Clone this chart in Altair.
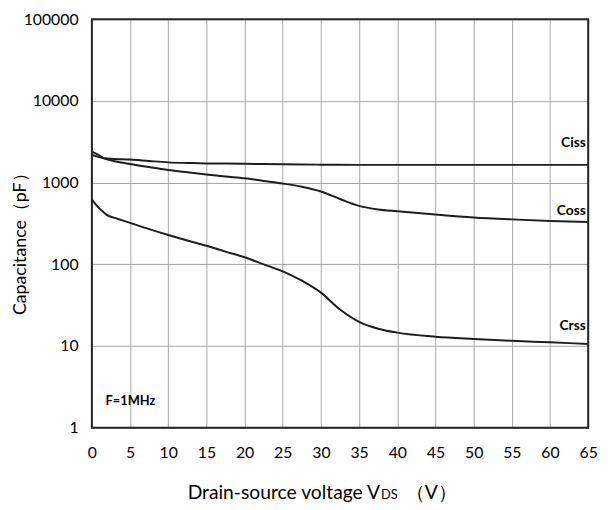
import altair as alt
import pandas as pd

V_ciss = [0, 1, 1.5, 2, 3, 5, 7.5, 10, 12.5, 15, 17.5, 20, 22.5, 25, 27.5, 30, 35, 40, 45, 50, 55, 60, 65]
ciss = [2180, 2050, 2000, 1980, 1950, 1920, 1840, 1770, 1740, 1720, 1710, 1700, 1690, 1680, 1670, 1660, 1650, 1650, 1650, 1650, 1650, 1650, 1650]

V_coss = [0, 1, 1.5, 2, 3, 5, 7.5, 10, 12.5, 15, 17.5, 20, 22.5, 25, 27.5, 30, 32.5, 35, 37.5, 40, 45, 50, 55, 60, 65]
coss = [2400, 2150, 2000, 1930, 1830, 1690, 1550, 1430, 1340, 1260, 1190, 1130, 1050, 975, 890, 778, 630, 520, 470, 447, 407, 375, 355, 340, 330]

V_crss = [0, 0.5, 1, 1.5, 2, 3, 5, 7.5, 10, 12.5, 15, 17.5, 20, 22.5, 25, 27.5, 30, 32.5, 35, 37.5, 40, 45, 50, 55, 60, 65]
crss = [620, 542, 481, 438, 400, 370, 322, 270, 229, 196, 169, 143, 122, 100, 82, 63, 45, 28, 19.8, 16.3, 14.6, 13, 12.2, 11.6, 11.1, 10.6]

label_names = ["Ciss", "Coss", "Crss"]
label_x = [64.7, 64.7, 64.7]
label_y = [3040, 447, 17.4]

note_text = ["F=1MHz"]
note_x = [1.8]
note_y = [2.12]

x_ticks = list(range(0, 70, 5))
y_ticks = [1, 10, 100, 1000, 10000, 100000]

x_title_parts = ["Drain-source voltage V", "DS", "（V）"]

rows = []
for name, xs_, ys_ in [("Ciss", V_ciss, ciss), ("Coss", V_coss, coss), ("Crss", V_crss, crss)]:
    for a, b in zip(xs_, ys_):
        rows.append({"series": name, "V": a, "C": b})
df = pd.DataFrame(rows)
lab = pd.DataFrame({"name": label_names, "V": label_x, "C": label_y})
note = pd.DataFrame({"t": note_text, "V": note_x, "C": note_y})

FONT = "Lato"
W, H = 503, 414

xs = alt.Scale(domain=[0, 65], nice=False, zero=False)
ys = alt.Scale(type="log", domain=[1, 100000], nice=False)

xaxis = alt.Axis(
    values=x_ticks, format="d", title=None, labelOverlap=False,
    grid=True, gridColor="#a6a6a6", gridWidth=1, ticks=False, domain=False,
    labelFontSize=16, labelPadding=17, labelFont=FONT, labelColor="#000",
    labelFlush=False)
yaxis = alt.Axis(
    values=y_ticks, format="d", title="Capacitance（pF）", labelOverlap=False,
    grid=True, gridColor="#a6a6a6", gridWidth=1, ticks=False, domain=False,
    labelFontSize=16, labelPadding=14, labelFont=FONT, labelColor="#000",
    titleFont=FONT, titleFontSize=18, titleFontWeight="normal", titleColor="#000",
    titleX=-72, titleY=223, titleAlign="center", titleBaseline="middle", titleAngle=270,
    labelFlush=False)

def xenc():
    return alt.X("V:Q", scale=xs, axis=xaxis)

def yenc():
    return alt.Y("C:Q", scale=ys, axis=yaxis)

lines = alt.Chart(df).mark_line(color="#1e1e1e", strokeWidth=2, interpolate="monotone").encode(
    x=xenc(), y=yenc(), detail="series:N")

labels = alt.Chart(lab).mark_text(font=FONT, fontSize=14, fontWeight="bold", align="right", baseline="middle", color="#000").encode(
    x=xenc(), y=yenc(), text="name:N")

notes = alt.Chart(note).mark_text(font=FONT, fontSize=13, fontWeight="bold", align="left", baseline="middle", color="#000").encode(
    x=xenc(), y=yenc(), text="t:N")

frame = alt.Chart(pd.DataFrame({"f": [0]})).mark_rect(
    fillOpacity=0, stroke="#262626", strokeWidth=2).encode(
    x=alt.value(0), x2=alt.value(W), y=alt.value(0), y2=alt.value(H))

t1 = alt.Chart(pd.DataFrame({"t": [x_title_parts[0]]})).mark_text(
    font=FONT, fontSize=19.5, align="right", baseline="alphabetic", color="#000").encode(
    x=alt.value(292), y=alt.value(486), text="t:N")
t2 = alt.Chart(pd.DataFrame({"t": [x_title_parts[1]]})).mark_text(
    font=FONT, fontSize=13, align="left", baseline="alphabetic", color="#000").encode(
    x=alt.value(293), y=alt.value(486), text="t:N")
t3 = alt.Chart(pd.DataFrame({"t": [x_title_parts[2]]})).mark_text(
    font=FONT, fontSize=19.5, align="left", baseline="alphabetic", color="#000").encode(
    x=alt.value(318), y=alt.value(486), text="t:N")

chart = alt.layer(lines, frame, labels, notes, t1, t2, t3).properties(
    width=W, height=H,
    autosize=alt.AutoSizeParams(type="none"),
    padding={"left": 85, "top": 8, "right": 12, "bottom": 80},
).configure_view(stroke=None).configure(background="white")

chart.save("out.html", embed_options={"renderer": "svg", "actions": False})
